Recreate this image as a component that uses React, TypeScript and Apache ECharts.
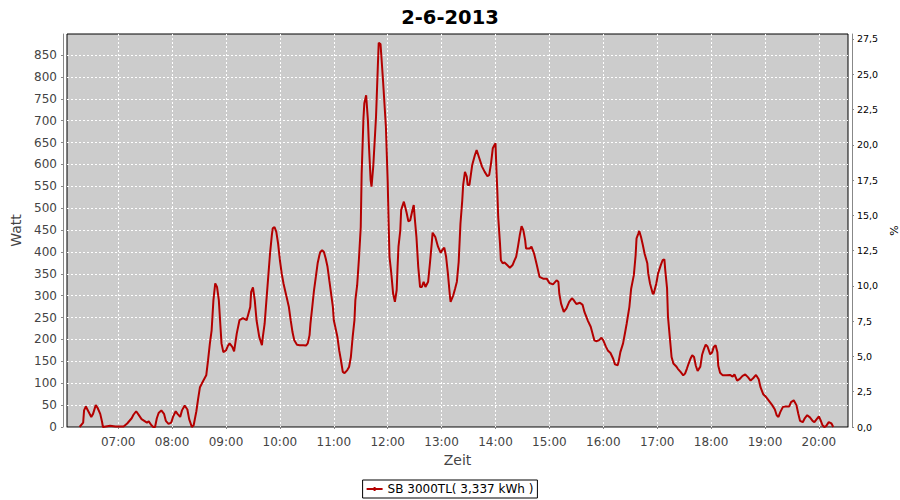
import React, { useEffect, useRef } from "react";
import * as echarts from "echarts";

const TITLE = "2-6-2013";
const SERIES_NAME = "SB 3000TL( 3,337 kWh )";
const X_NAME = "Zeit";
const Y_NAME = "Watt";
const Y2_NAME = "%";

// time of day in minutes since midnight
const minutes = [
  377, 381, 382, 384, 387, 390, 392, 395, 397, 400,
  402, 403, 411, 417, 426, 430, 435, 437, 440, 443,
  446, 449, 452, 454, 457, 459, 461, 463, 465, 468,
  471, 473, 476, 479, 481, 484, 486, 489, 491, 494,
  497, 499, 502, 504, 507, 509, 511, 515, 518, 520,
  522, 524, 526, 528, 530, 532, 535, 537, 540, 542,
  544, 547, 549, 552, 555, 559, 563, 567, 568, 570,
  572, 574, 577, 580, 581, 583, 585, 587, 589, 591,
  592, 594, 596, 598, 600, 602, 604, 607, 610, 612,
  614, 616, 619, 622, 626, 629, 631, 633, 634, 636,
  638, 640, 642, 644, 645, 647, 649, 651, 653, 655,
  657, 659, 660, 662, 664, 666, 668, 670, 672, 675,
  677, 679, 681, 683, 684, 686, 688, 690, 691, 693,
  694, 696, 698, 699, 701, 702, 704, 707, 709, 710,
  712, 713, 715, 718, 720, 721, 722, 724, 726, 728,
  730, 731, 732, 734, 735, 738, 741, 743, 745, 748,
  749, 750, 752, 754, 756, 758, 760, 762, 765, 767,
  769, 770, 773, 776, 779, 781, 783, 785, 787, 789,
  790, 793, 795, 797, 799, 801, 803, 804, 806, 808,
  809, 811, 812, 814, 817, 819, 822, 825, 828, 831,
  833, 835, 837, 839, 840, 841, 842, 843, 845, 846,
  848, 850, 853, 856, 859, 861, 863, 865, 867, 869,
  871, 873, 874, 878, 880, 883, 886, 889, 893, 897,
  900, 904, 908, 910, 911, 913, 916, 919, 922, 925,
  927, 930, 934, 937, 939, 943, 946, 949, 950, 952,
  955, 958, 960, 963, 965, 968, 971, 973, 976, 977,
  979, 982, 984, 986, 989, 991, 994, 996, 997, 999,
  1000, 1002, 1004, 1006, 1009, 1010, 1012, 1015, 1016, 1019,
  1021, 1024, 1026, 1028, 1029, 1031, 1032, 1034, 1036, 1038,
  1041, 1043, 1046, 1049, 1051, 1053, 1055, 1057, 1059, 1061,
  1063, 1065, 1068, 1070, 1072, 1074, 1076, 1079, 1081, 1083,
  1085, 1087, 1088, 1090, 1093, 1097, 1101, 1104, 1106, 1109,
  1112, 1115, 1118, 1121, 1124, 1127, 1130, 1133, 1135, 1138,
  1141, 1144, 1148, 1151, 1153, 1155, 1157, 1160, 1163, 1167,
  1169, 1172, 1175, 1177, 1179, 1182, 1184, 1187, 1190, 1193,
  1195, 1198, 1200, 1202, 1204, 1206, 1208, 1211, 1214, 1216,
];

const watts = [
  0, 10, 38, 47, 35, 23, 30, 50, 44, 30,
  12, 0, 3, 1, 1, 8, 20, 28, 36, 27,
  18, 14, 10, 13, 4, 0, 0, 20, 32, 38,
  30, 14, 7, 10, 23, 36, 30, 23, 38, 49,
  40, 18, 0, 4, 36, 65, 91, 107, 118, 152,
  190, 221, 290, 328, 320, 290, 191, 171, 175, 185,
  191, 183, 173, 214, 244, 249, 244, 274, 309, 319,
  290, 244, 206, 187, 206, 236, 290, 343, 396, 438,
  454, 457, 446, 419, 381, 351, 328, 301, 274, 244,
  217, 198, 188, 187, 187, 186, 191, 210, 236, 274,
  313, 343, 374, 393, 400, 404, 400, 385, 366, 335,
  305, 274, 244, 225, 206, 175, 152, 126, 123, 130,
  137, 160, 206, 244, 290, 324, 385, 457, 579, 705,
  740, 758, 700, 648, 564, 549, 598, 709, 823, 878,
  875, 846, 785, 686, 560, 470, 389, 351, 305, 286,
  313, 366, 412, 449, 496, 515, 490, 470, 472, 500,
  507, 480, 434, 366, 320, 320, 332, 320, 332, 374,
  419, 444, 434, 412, 398, 405, 410, 389, 351, 305,
  286, 301, 316, 332, 377, 465, 518, 553, 583, 572,
  553, 553, 568, 598, 621, 633, 614, 595, 583, 573,
  576, 602, 637, 645, 648, 590, 541, 480, 419, 381,
  374, 376, 370, 364, 370, 380, 389, 412, 438, 459,
  450, 427, 408, 408, 412, 396, 370, 343, 339, 339,
  329, 326, 335, 332, 305, 282, 263, 271, 286, 294,
  290, 281, 284, 279, 263, 242, 229, 206, 198, 196,
  198, 204, 198, 183, 175, 169, 156, 143, 141, 149,
  171, 191, 213, 236, 274, 316, 347, 393, 431, 442,
  448, 434, 416, 396, 374, 351, 328, 305, 304, 328,
  351, 370, 381, 383, 358, 316, 252, 206, 160, 145,
  139, 133, 126, 118, 122, 133, 145, 156, 164, 160,
  140, 128, 138, 165, 178, 188, 184, 166, 170, 183,
  187, 171, 140, 124, 118, 118, 119, 115, 120, 106,
  110, 117, 120, 114, 106, 112, 119, 109, 91, 75,
  69, 61, 50, 40, 27, 23, 34, 46, 47, 47,
  57, 61, 50, 31, 14, 11, 19, 27, 22, 14,
  11, 19, 24, 15, 4, 0, 2, 11, 8, 0,
];

// axis extents (hours of day, watts, percent)
const X_MIN_HOURS = 6.05;
const X_MAX_HOURS = 20.54;
const Y_MAX_WATT = 898;
const Y_STEP_WATT = 50;
const Y2_MAX_PCT = 27.85;
const Y2_STEP_PCT = 2.5;

const FONT = "DejaVu Sans";
const LINE_COLOR = "#b40000";

export default function App() {
  const ref = useRef<HTMLDivElement>(null);

  useEffect(() => {
    if (!ref.current) return;
    const chart = echarts.init(ref.current, null, { renderer: "svg" });
    const data = minutes.map((m, i) => [m / 60, watts[i]]);
    const pad = (n: number) => (n < 10 ? "0" : "") + n;
    const gridLine = {
      show: true,
      showMinLine: false,
      showMaxLine: false,
      lineStyle: { color: "#ffffff", type: [2, 2], width: 1 },
    };
    const axisLine = { show: true, lineStyle: { color: "#888888", width: 1 } };
    const axisTick = { show: true, length: 2, lineStyle: { color: "#888888", width: 1 } };

    chart.setOption({
      animation: false,
      backgroundColor: "#ffffff",
      textStyle: { fontFamily: FONT },
      title: {
        text: TITLE,
        left: "center",
        top: 2,
        textStyle: { fontFamily: FONT, fontWeight: "bold", fontSize: 19.5, color: "#000000" },
      },
      legend: {
        bottom: 2,
        left: "center",
        borderColor: "#000000",
        borderWidth: 1,
        borderRadius: 0,
        padding: [3, 4, 3, 4],
        itemWidth: 16,
        itemHeight: 6,
        icon: "path://M0,2 L16,2 L16,4 L0,4 Z M7,1 L9,1 L9,5 L7,5 Z",
        textStyle: { fontFamily: FONT, fontSize: 12, color: "#000000" },
        data: [SERIES_NAME],
      },
      grid: {
        left: 67,
        right: 52,
        top: 34,
        bottom: 73,
        show: true,
        backgroundColor: "#cccccc",
        borderColor: "#000000",
        borderWidth: 1,
        containLabel: false,
        outerBoundsMode: "none",
      },
      xAxis: {
        type: "value",
        min: X_MIN_HOURS,
        max: X_MAX_HOURS,
        splitNumber: 14,
        minInterval: 1,
        maxInterval: 1,
        offset: 4,
        name: X_NAME,
        nameLocation: "middle",
        nameGap: 22,
        nameTextStyle: { fontFamily: FONT, fontSize: 14, color: "#444444" },
        axisLine,
        axisTick,
        axisLabel: {
          show: true,
          showMinLabel: false,
          showMaxLabel: false,
          margin: 5,
          fontFamily: FONT,
          fontSize: 12,
          color: "#444444",
          formatter: (v: number) => pad(Math.round(v)) + ":00",
        },
        splitLine: gridLine,
      },
      yAxis: [
        {
          type: "value",
          position: "left",
          min: 0,
          max: Y_MAX_WATT,
          interval: Y_STEP_WATT,
          offset: 4,
          name: Y_NAME,
          nameLocation: "middle",
          nameGap: 33,
          nameTextStyle: { fontFamily: FONT, fontSize: 14, color: "#444444" },
          axisLine,
          axisTick,
          axisLabel: {
            show: true,
            showMaxLabel: false,
            margin: 6,
            fontFamily: FONT,
            fontSize: 12,
            color: "#444444",
          },
          splitLine: gridLine,
        },
        {
          type: "value",
          position: "right",
          min: 0,
          max: Y2_MAX_PCT,
          interval: Y2_STEP_PCT,
          offset: 4,
          alignTicks: false,
          name: Y2_NAME,
          nameLocation: "middle",
          nameGap: 34,
          nameRotate: 90,
          nameTextStyle: {
            fontFamily: FONT,
            fontSize: 11,
            color: "#000000",
            align: "center",
            verticalAlign: "middle",
          },
          axisLine,
          axisTick,
          axisLabel: {
            show: true,
            showMaxLabel: false,
            margin: 5,
            fontFamily: FONT,
            fontSize: 9.5,
            color: "#000000",
            formatter: (v: number) => v.toFixed(1).replace(".", ","),
          },
          splitLine: { show: false },
        },
      ],
      series: [
        {
          type: "line",
          name: SERIES_NAME,
          yAxisIndex: 0,
          data,
          showSymbol: false,
          symbol: "none",
          smooth: false,
          lineStyle: { color: LINE_COLOR, width: 2 },
          itemStyle: { color: LINE_COLOR },
        },
      ],
    });

    return () => chart.dispose();
  }, []);

  return (
    <div
      ref={ref}
      style={{ position: "fixed", left: 0, top: 0, width: 900, height: 500 }}
    />
  );
}
